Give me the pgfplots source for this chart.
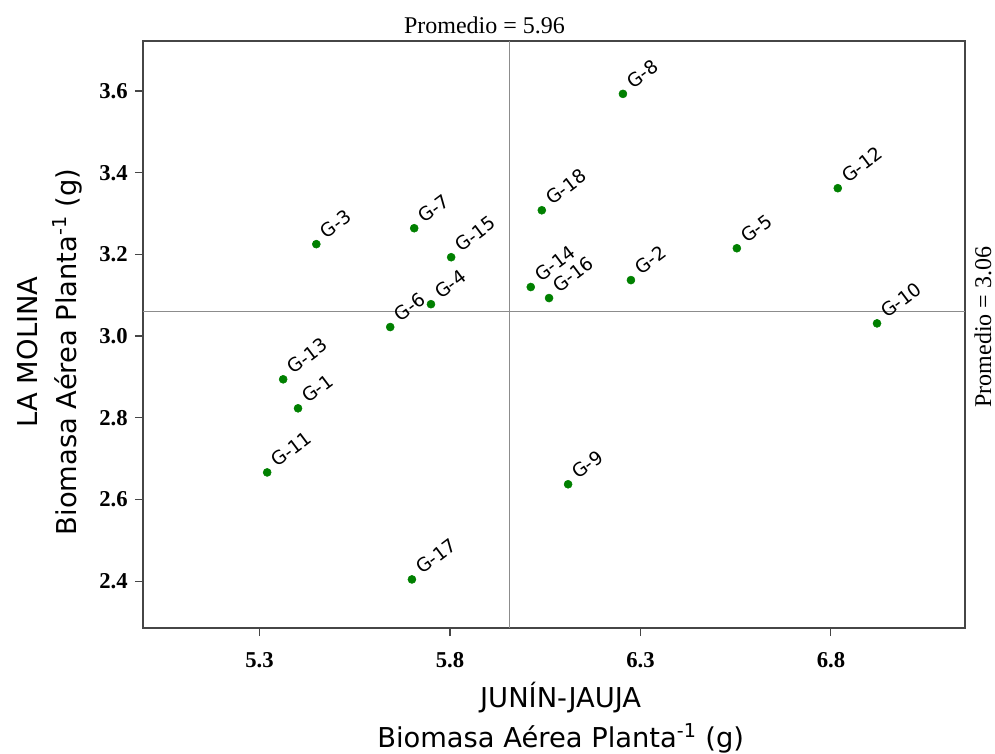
\documentclass[border=0pt]{standalone}
\usepackage{pgfplots}
\pgfplotsset{compat=1.18}
\usepackage{fontspec}
\setmainfont{Liberation Serif}
\newfontfamily\dvs{DejaVu Sans}
\definecolor{ptgreen}{RGB}{0,128,0}
\definecolor{axgray}{RGB}{70,70,70}
\definecolor{refgray}{RGB}{140,140,140}
\begin{document}
\begin{tikzpicture}
\begin{axis}[
  scale only axis,
  width=616.5pt, height=440.25pt,
  xmin=4.994, xmax=7.152,
  ymin=2.285, ymax=3.7225,
  axis line style={axgray, line width=0.8pt},
  xtick={5.3,5.8,6.3,6.8},
  ytick={2.4,2.6,2.8,3.0,3.2,3.4,3.6},
  xtick pos=bottom, ytick pos=left,
  tick align=outside,
  major tick length=6pt,
  tick style={axgray, line width=0.8pt},
  /pgf/number format/assume math mode=true,
  /pgf/number format/.cd, fixed, fixed zerofill, precision=1, /pgfplots/.cd,
  ticklabel style={font=\fontsize{17}{19}\selectfont\bfseries},
  xticklabel style={yshift=-9pt},
  yticklabel style={xshift=-2pt},
  xlabel={\dvs JUNÍN-JAUJA\\ \dvs Biomasa Aérea Planta\textsuperscript{-1} (g)},
  ylabel={\dvs LA MOLINA\\ \dvs Biomasa Aérea Planta\textsuperscript{-1} (g)},
  xlabel style={font=\fontsize{20.5}{30}\selectfont, align=center, yshift=-4pt, xshift=5pt},
  ylabel style={font=\fontsize{20.5}{29}\selectfont, align=center, yshift=6pt, xshift=-13pt},
  clip=false,
]
\draw[refgray, line width=0.6pt] (axis cs:5.957,2.285) -- (axis cs:5.957,3.7225);
\draw[refgray, line width=0.6pt] (axis cs:4.994,3.061) -- (axis cs:7.152,3.061);
\node[anchor=south, font=\fontsize{18}{20}\selectfont, inner sep=5pt, xshift=-19pt] at (axis cs:5.957,3.7225) {Promedio = 5.96};
\node[anchor=center, rotate=90, font=\fontsize{18}{20}\selectfont, inner sep=0pt] at ([xshift=13.5pt,yshift=-12pt]axis cs:7.152,3.061) {Promedio = 3.06};
\addplot[only marks, mark=*, mark size=3pt, ptgreen,
  nodes near coords, point meta=explicit symbolic,
  nodes near coords style={anchor=base west, rotate=37, font=\dvs\fontsize{14}{16}\selectfont, text=black, inner sep=0pt, xshift=8pt, yshift=-2pt}]
table[meta=label] {
x y label
5.401 2.823 G-1
6.275 3.137 G-2
5.449 3.225 G-3
5.750 3.078 G-4
6.553 3.215 G-5
5.643 3.022 G-6
5.706 3.264 G-7
6.254 3.593 G-8
6.110 2.637 G-9
6.921 3.031 G-10
5.320 2.666 G-11
6.818 3.362 G-12
5.362 2.894 G-13
6.012 3.120 G-14
5.803 3.193 G-15
6.060 3.093 G-16
5.700 2.404 G-17
6.041 3.308 G-18
};
\end{axis}
\pgfresetboundingbox
\path ([xshift=-107.25pt,yshift=-93.75pt]current axis.south west) rectangle ([xshift=22.5pt,yshift=30.75pt]current axis.north east);
\end{tikzpicture}
\end{document}
